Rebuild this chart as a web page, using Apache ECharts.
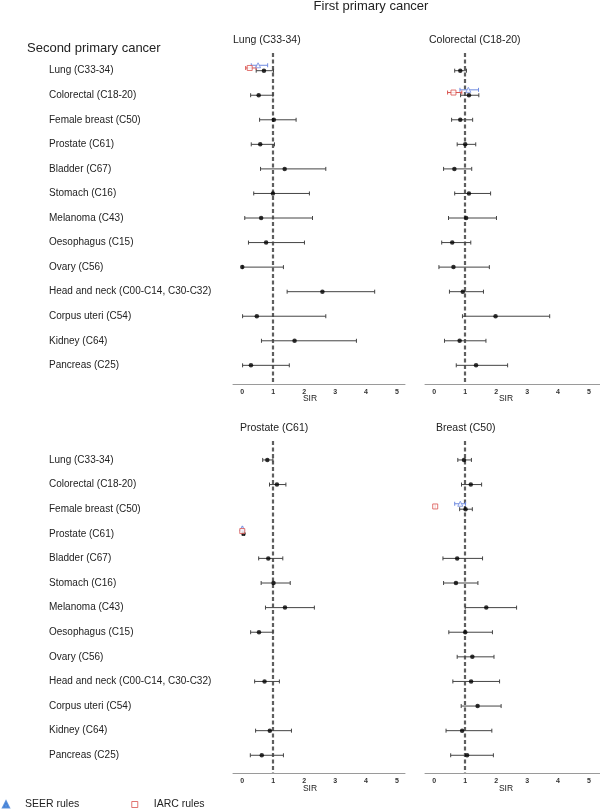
<!DOCTYPE html>
<html><head><meta charset="utf-8">
<script src="https://cdn.jsdelivr.net/npm/echarts@6/dist/echarts.min.js"></script>
<style>html,body{margin:0;padding:0;background:#fff}#c{width:600px;height:811px}</style>
</head><body><div id="c"></div>
<script>
// ---------- data ----------
const secondCancers = ['Lung (C33-34)','Colorectal (C18-20)','Female breast (C50)','Prostate (C61)','Bladder (C67)','Stomach (C16)','Melanoma (C43)','Oesophagus (C15)','Ovary (C56)','Head and neck (C00-C14, C30-C32)','Corpus uteri (C54)','Kidney (C64)','Pancreas (C25)'];
const firstCancers = ['Lung (C33-34)','Colorectal (C18-20)','Prostate (C61)','Breast (C50)'];
const xTicks = [0,1,2,3,4,5];

const lungSIR  = [0.70,0.53,1.02,0.58,1.37,0.99,0.61,0.77,0.00,2.59,0.47,1.69,0.28];
const lungLow  = [0.45,0.27,0.56,0.29,0.59,0.37,0.08,0.20,0.00,1.45,0.01,0.62,0.01];
const lungHigh = [1.01,0.99,1.74,1.04,2.70,2.17,2.27,2.01,1.33,4.28,2.70,3.69,1.52];

const colorectalSIR  = [0.84,1.12,0.84,1.00,0.65,1.12,1.03,0.58,0.62,0.92,1.98,0.82,1.35];
const colorectalLow  = [0.66,0.85,0.56,0.74,0.30,0.66,0.46,0.24,0.15,0.49,0.91,0.33,0.71];
const colorectalHigh = [1.04,1.44,1.24,1.34,1.21,1.82,2.01,1.18,1.78,1.59,3.73,1.67,2.37];

const prostateSIR  = [0.81,1.12,null,0.04,0.84,1.01,1.38,0.54,null,0.72,null,0.89,0.63];
const prostateLow  = [0.66,0.88,null,0.00,0.53,0.61,0.75,0.27,null,0.40,null,0.43,0.26];
const prostateHigh = [0.99,1.41,null,0.07,1.31,1.55,2.33,0.99,null,1.20,null,1.59,1.33];

const breastSIR  = [0.96,1.18,1.01,null,0.74,0.70,1.68,1.00,1.23,1.19,1.40,0.90,1.06];
const breastLow  = [0.76,0.88,0.82,null,0.28,0.30,1.00,0.47,0.74,0.60,0.87,0.38,0.53];
const breastHigh = [1.20,1.53,1.23,null,1.56,1.41,2.66,1.88,1.93,2.11,2.16,1.86,1.91];

// same-site estimates under alternative rules (one row per panel)
const altRowIndex = [0,1,3,2];
const seerSIR  = [0.51,1.10,0.00,0.84];
const seerLow  = [0.29,0.83,0.00,0.66];
const seerHigh = [0.82,1.43,0.02,1.01];
const iarcSIR  = [0.24,0.62,0.00,0.03];
const iarcLow  = [0.11,0.43,0.00,0.03];
const iarcHigh = [0.45,0.89,0.02,0.03];

// ---------- layout / style ----------
const FONT = 'Liberation Sans';
const panelsData = [
  [lungSIR,lungLow,lungHigh],
  [colorectalSIR,colorectalLow,colorectalHigh],
  [prostateSIR,prostateLow,prostateHigh],
  [breastSIR,breastLow,breastHigh]
];
const grids = [
  {left:233, top:53,  width:172, height:331},
  {left:425, top:53,  width:175, height:331},
  {left:233, top:441, width:172, height:332},
  {left:425, top:441, width:175, height:332}
];
const xMax = [5.26,5.356,5.26,5.356];
const yRange = [[-0.72,12.76],[-0.72,12.76],[-0.77,12.72],[-0.77,12.72]];
const SEER_OFF = -0.22, IARC_OFF = -0.11;
const SEER_COL = '#6f8be0', IARC_COL = '#d9534f';

function barRenderer(color){
  return function(params, api){
    const y = api.value(2);
    const p1 = api.coord([api.value(0), y]);
    const p2 = api.coord([api.value(1), y]);
    const st = {stroke: color, lineWidth: 1};
    const h = 2;
    return {type:'group', children:[
      {type:'line', shape:{x1:p1[0],y1:p1[1],x2:p2[0],y2:p2[1]}, style:st},
      {type:'line', shape:{x1:p1[0],y1:p1[1]-h,x2:p1[0],y2:p1[1]+h}, style:st},
      {type:'line', shape:{x1:p2[0],y1:p2[1]-h,x2:p2[0],y2:p2[1]+h}, style:st}
    ]};
  };
}

const xAxis = [], yAxis = [], series = [];
grids.forEach((g,i)=>{
  xAxis.push({
    type:'value', gridIndex:i, min:-0.3, max:xMax[i],
    axisLine:{show:true, onZero:false, lineStyle:{color:'#9a9a9a', width:1}},
    axisTick:{show:false}, splitLine:{show:false},
    axisLabel:{customValues:xTicks, fontSize:7, color:'#333', fontFamily:FONT, fontWeight:'bold', margin:5}
  });
  const showLabels = (i===0 || i===2);
  yAxis.push({
    type:'value', gridIndex:i, inverse:true, min:yRange[i][0], max:yRange[i][1],
    axisLine:{show:false}, axisTick:{show:false}, splitLine:{show:false},
    axisLabel:{show:showLabels, customValues:secondCancers.map((_,k)=>k),
      formatter:(v)=>secondCancers[Math.round(v)] || '',
      align:'left', margin:184, fontSize:10, color:'#222', fontFamily:FONT}
  });
  const [est, lo, hi] = panelsData[i];
  const barData = [], ptData = [];
  est.forEach((v,k)=>{
    if (v === null) return;
    barData.push([lo[k], hi[k], k]);
    ptData.push([v, k]);
  });
  series.push({
    type:'custom', xAxisIndex:i, yAxisIndex:i, renderItem:barRenderer('#444'),
    encode:{x:[0,1], y:2}, data:barData, z:3, silent:true
  });
  series.push({type:'scatter', xAxisIndex:i, yAxisIndex:i, symbol:'circle', symbolSize:4.5,
    itemStyle:{color:'#000'}, data:ptData, z:5, silent:true,
    markLine:{silent:true, symbol:'none', label:{show:false}, z:2,
      lineStyle:{color:'#5e5e5e', width:2.2, type:[4,2.5]}, data:[{xAxis:1}]}
  });
  const r = altRowIndex[i];
  series.push({type:'custom', xAxisIndex:i, yAxisIndex:i, renderItem:barRenderer(SEER_COL),
    encode:{x:[0,1], y:2}, data:[[seerLow[i], seerHigh[i], r+SEER_OFF]], z:4, silent:true});
  series.push({type:'scatter', name:'SEER rules', xAxisIndex:i, yAxisIndex:i, symbol:'triangle', symbolSize:5,
    itemStyle:{color:'#fff', borderColor:SEER_COL, borderWidth:1}, data:[[seerSIR[i], r+SEER_OFF]], z:6, silent:true});
  series.push({type:'custom', xAxisIndex:i, yAxisIndex:i, renderItem:barRenderer(IARC_COL),
    encode:{x:[0,1], y:2}, data:[[iarcLow[i], iarcHigh[i], r+IARC_OFF]], z:4, silent:true});
  series.push({type:'scatter', name:'IARC rules', xAxisIndex:i, yAxisIndex:i, symbol:'rect', symbolSize:5,
    itemStyle:{color:'#fff', borderColor:IARC_COL, borderWidth:1}, data:[[iarcSIR[i], r+IARC_OFF]], z:6, silent:true});
});

const T = (x,y,text,size,align)=>({type:'text', x, y,
  style:{text, fontSize:size, fontFamily:FONT, fill:'#222', textAlign:align||'left', textVerticalAlign:'middle'}});

const graphic = [
  T(371, 6, 'First primary cancer', 13, 'center'),
  T(27, 48, 'Second primary cancer', 13),
  T(233, 40, firstCancers[0], 10.5),
  T(429, 40, firstCancers[1], 10.5),
  T(240, 428, firstCancers[2], 10.5),
  T(436, 428, firstCancers[3], 10.5),
  T(310, 399, 'SIR', 8.5, 'center'),
  T(506, 399, 'SIR', 8.5, 'center'),
  T(310, 789, 'SIR', 8.5, 'center'),
  T(506, 789, 'SIR', 8.5, 'center')
];

const chart = echarts.init(document.getElementById('c'), null, {renderer:'canvas'});
chart.setOption({
  animation:false,
  backgroundColor:'#fff',
  grid: grids,
  xAxis, yAxis, series, graphic,
  legend:{
    left:2, top:799, padding:0, itemWidth:6, itemHeight:6, itemGap:52, orient:'horizontal',
    textStyle:{fontSize:10.5, fontFamily:FONT, color:'#222', padding:[0,0,0,11]},
    data:[
      {name:'SEER rules', icon:'triangle', itemStyle:{color:'#3a7bd5', borderColor:'#3a7bd5'}},
      {name:'IARC rules', icon:'rect', itemStyle:{color:'#fff', borderColor:IARC_COL, borderWidth:1}}
    ],
    selectedMode:false
  }
});
</script></body></html>
